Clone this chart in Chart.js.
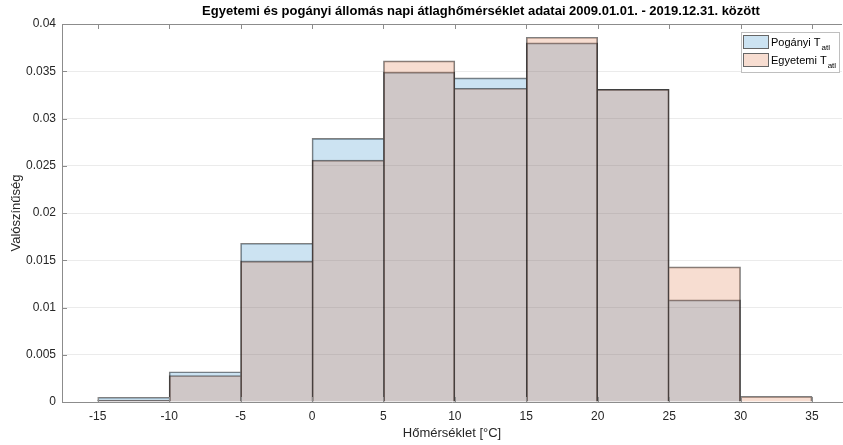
<!DOCTYPE html>
<html>
<head>
<meta charset="utf-8">
<script src="https://cdn.jsdelivr.net/npm/chart.js@4/dist/chart.umd.min.js"></script>
<style>
  body { margin: 0; background: #fff; }
</style>
</head>
<body>
<canvas id="histChart" width="843" height="445"></canvas>
<script>
// Bin határok (°C)
const binEdges = [-15, -10, -5, 0, 5, 10, 15, 20, 25, 30, 35];
// Valószínűségek binenként
const poganyi = [0.0005, 0.0032, 0.0168, 0.0279, 0.0349, 0.0343, 0.0380, 0.0331, 0.0108, 0];
const egyetemi = [0.0002, 0.0028, 0.0149, 0.0256, 0.0361, 0.0332, 0.0386, 0.0331, 0.0143, 0.0006];
const yTicks = [0, 0.005, 0.01, 0.015, 0.02, 0.025, 0.03, 0.035, 0.04];

const titleText = 'Egyetemi és pogányi állomás napi átlaghőmérséklet adatai 2009.01.01. - 2019.12.31. között';
const seriesNames = ['Pogányi T', 'Egyetemi T'];
const seriesSub = 'atl';

const blueFill = 'rgba(0, 114, 189, 0.2)';
const orangeFill = 'rgba(217, 83, 25, 0.2)';
const edge = 'rgba(0, 0, 0, 0.5)';
const axisColor = '#262626';
const fontFam = '"Liberation Sans", Arial, sans-serif';

function toPoints(vals) {
    return vals.map((v, i) => ({ x: (binEdges[i] + binEdges[i + 1]) / 2, y: v }));
}

// a közös élt mindig a magasabb oszlop rajzolja -> nincs dupla vonal
function edgeWidth(vals) {
    return c => {
        const i = c.dataIndex, cur = vals[i];
        const prev = vals[i - 1], next = vals[i + 1];
        return {
            left: (prev === undefined || prev < cur) ? 1 : 0,
            right: (next === undefined || next <= cur) ? 1 : 0,
            top: 1,
            bottom: 0
        };
    };
}

// Doboz, befelé mutató tickek, cím és jelmagyarázat rajzolása
const matlabLook = {
    id: 'matlabLook',
    afterDraw(chart) {
        const { ctx, chartArea: a, scales } = chart;
        ctx.save();
        ctx.strokeStyle = '#8c8c8c';
        ctx.lineWidth = 1;
        ctx.beginPath();
        ctx.moveTo(a.left, a.top + 0.5);
        ctx.lineTo(a.right, a.top + 0.5);
        binEdges.forEach(v => {
            const px = Math.round(scales.x.getPixelForValue(v)) + 0.5;
            ctx.moveTo(px, a.bottom); ctx.lineTo(px, a.bottom - 5);
            ctx.moveTo(px, a.top); ctx.lineTo(px, a.top + 5);
        });
        yTicks.forEach(v => {
            const py = Math.round(scales.y.getPixelForValue(v)) + 0.5;
            ctx.moveTo(a.left, py); ctx.lineTo(a.left + 5, py);
        });
        ctx.stroke();

        // cím
        ctx.fillStyle = '#000';
        ctx.font = 'bold 13px ' + fontFam;
        ctx.textAlign = 'center';
        ctx.textBaseline = 'middle';
        ctx.fillText(titleText, 481, 11);

        // jelmagyarázat
        const bx = a.right - 101, by = 32;
        ctx.fillStyle = '#fff';
        ctx.fillRect(bx, by, 98, 40);
        ctx.strokeStyle = '#bfbfbf';
        ctx.strokeRect(bx + 0.5, by + 0.5, 98, 40);
        const fills = [blueFill, orangeFill];
        seriesNames.forEach((name, i) => {
            const sy = by + 3 + i * 18;
            ctx.fillStyle = fills[i];
            ctx.fillRect(bx + 2, sy, 26, 14);
            ctx.strokeStyle = '#666';
            ctx.strokeRect(bx + 2.5, sy + 0.5, 25, 13);
            ctx.fillStyle = '#000';
            ctx.textAlign = 'left';
            ctx.textBaseline = 'alphabetic';
            ctx.font = '11px ' + fontFam;
            ctx.fillText(name, bx + 30, sy + 11);
            const w = ctx.measureText(name).width;
            ctx.font = '8px ' + fontFam;
            ctx.fillText(seriesSub, bx + 31 + w, sy + 15);
        });
        ctx.restore();
    }
};

const ctx = document.getElementById('histChart').getContext('2d');
const histChart = new Chart(ctx, {
    type: 'bar',
    data: {
        datasets: [{
            label: seriesNames[0] + seriesSub,
            data: toPoints(poganyi),
            backgroundColor: blueFill,
            borderColor: edge,
            borderWidth: edgeWidth(poganyi),
            order: 1
        }, {
            label: seriesNames[1] + seriesSub,
            data: toPoints(egyetemi),
            backgroundColor: orangeFill,
            borderColor: edge,
            borderWidth: edgeWidth(egyetemi),
            order: 0
        }]
    },
    options: {
        responsive: false,
        animation: false,
        grouped: false,
        barPercentage: 1,
        categoryPercentage: 1,
        layout: { padding: { top: 24, right: 1 } },
        plugins: {
            legend: { display: false },
            title: { display: false },
            tooltip: { enabled: false }
        },
        scales: {
            x: {
                type: 'linear',
                offset: false,
                min: -17.5,
                max: 37.1,
                afterBuildTicks: s => { s.ticks = binEdges.map(v => ({ value: v })); },
                afterFit: s => { s.height = 43; },
                grid: { drawOnChartArea: false, drawTicks: false },
                border: { color: '#8c8c8c' },
                ticks: {
                    padding: 7,
                    color: axisColor,
                    font: { family: fontFam, size: 12 },
                    maxRotation: 0
                },
                title: {
                    display: true,
                    text: 'Hőmérséklet [°C]',
                    color: axisColor,
                    font: { family: fontFam, size: 13 },
                    padding: { top: 0, bottom: 4 }
                }
            },
            y: {
                min: 0,
                max: 0.04,
                afterBuildTicks: s => { s.ticks = yTicks.map(v => ({ value: v })); },
                afterFit: s => { s.width = 62; },
                grid: { color: 'rgba(0,0,0,0.08)', drawTicks: false },
                border: { color: '#8c8c8c' },
                ticks: {
                    padding: 6,
                    color: axisColor,
                    font: { family: fontFam, size: 12 },
                    callback: v => String(v)
                },
                title: {
                    display: true,
                    text: 'Valószínűség',
                    color: axisColor,
                    font: { family: fontFam, size: 13 },
                    padding: { top: 9, bottom: 0 }
                }
            }
        }
    },
    plugins: [matlabLook]
});
</script>
</body>
</html>
